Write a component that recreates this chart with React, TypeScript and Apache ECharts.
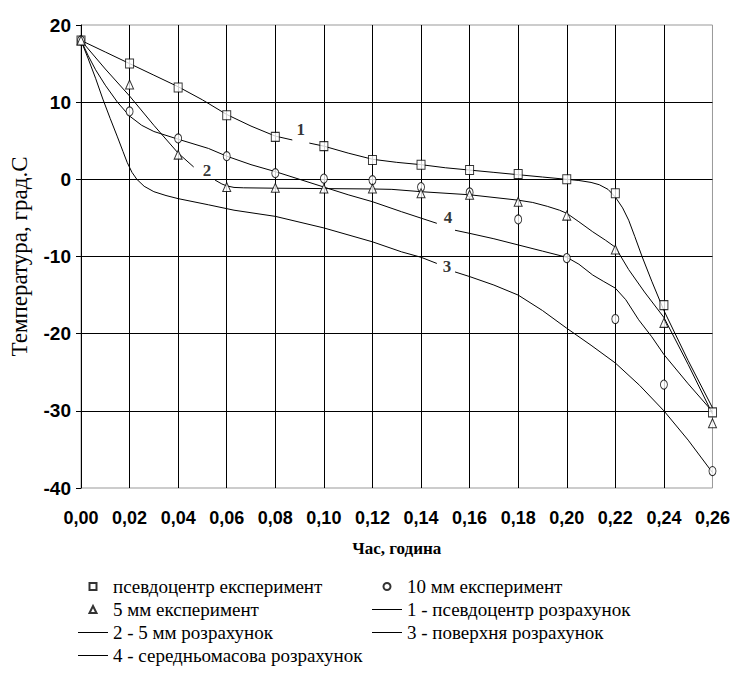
import React, { useEffect, useRef } from "react";
import * as echarts from "echarts";

// Experimental time points (h)
const timeExp = [0, 0.02, 0.04, 0.06, 0.08, 0.1, 0.12, 0.14, 0.16, 0.18, 0.2, 0.22, 0.24, 0.26];
// Experimental series (°C)
const pseudoCenterExp = [18, 15.0, 11.9, 8.3, 5.5, 4.3, 2.5, 1.9, 1.2, 0.7, 0.0, -1.8, -16.3, -30.2];
const mm10Exp = [18, 8.8, 5.3, 3.0, 0.8, 0.1, -0.1, -1.0, -1.7, -5.2, -10.2, -18.1, -26.6, -37.8];
const mm5Exp = [18, 12.3, 3.2, -1.0, -1.1, -1.2, -1.2, -1.8, -2.0, -2.9, -4.7, -9.1, -18.6, -31.6];

// Calculated curves: [time, temperature]; null = gap for the curve label
const calc1: (number | null)[][] = [
  [0, 18], [0.01, 16.5], [0.02, 15.0], [0.03, 13.5], [0.04, 12.0], [0.05, 10.3], [0.06, 8.4], [0.07, 6.9],
  [0.08, 5.6], [0.087, 5.1], [0.09, null], [0.094, 4.7], [0.1, 4.3], [0.11, 3.4], [0.12, 2.6], [0.13, 2.2],
  [0.14, 1.9], [0.15, 1.5], [0.16, 1.2], [0.17, 0.9], [0.18, 0.6], [0.19, 0.3], [0.2, 0.0], [0.205, -0.15],
  [0.21, -0.4], [0.2134, -0.7], [0.217, -1.3], [0.22, -2.3], [0.223, -3.7], [0.2255, -5.3], [0.228, -7.4],
  [0.231, -10.0], [0.235, -13.2], [0.24, -17.0], [0.25, -23.5], [0.26, -29.6],
];
const calc2: (number | null)[][] = [
  [0, 18], [0.01, 14.3], [0.02, 10.8], [0.03, 7.0], [0.04, 3.4], [0.0464, 1.6], [0.05, null], [0.0552, -0.1],
  [0.058, -0.6], [0.06, -0.85], [0.063, -1.05], [0.067, -1.1], [0.08, -1.15], [0.1, -1.2], [0.12, -1.25],
  [0.128, -1.3], [0.14, -1.6], [0.16, -2.0], [0.18, -2.7], [0.186, -3.0], [0.192, -3.5], [0.197, -4.0],
  [0.2, -4.4], [0.205, -5.5], [0.2107, -6.8], [0.216, -7.9], [0.22, -8.8], [0.2255, -11.7], [0.232, -14.6],
  [0.24, -17.9], [0.25, -24.0], [0.26, -30.4],
];
const calc3: (number | null)[][] = [
  [0, 18], [0.003, 15.6], [0.006, 13.1], [0.009, 10.4], [0.012, 7.9], [0.015, 5.5], [0.0173, 3.6],
  [0.019, 2.2], [0.021, 0.9], [0.023, 0.0], [0.026, -0.9], [0.03, -1.6], [0.035, -2.1], [0.04, -2.5],
  [0.0525, -3.3], [0.063, -4.0], [0.08, -4.8], [0.1, -6.3], [0.12, -8.1], [0.132, -9.4], [0.14, -10.1],
  [0.1465, -10.9], [0.15, null], [0.154, -12.0], [0.16, -12.6], [0.17, -13.7], [0.18, -15.0], [0.19, -17.0],
  [0.2, -19.3], [0.21, -21.5], [0.22, -23.8], [0.23, -26.7], [0.24, -30.0], [0.25, -33.8], [0.26, -38.0],
];
const calc4: (number | null)[][] = [
  [0, 18], [0.003, 16.0], [0.006, 14.2], [0.01, 12.2], [0.015, 10.0], [0.02, 8.2], [0.025, 7.0], [0.03, 6.2],
  [0.04, 5.2], [0.0525, 4.0], [0.06, 3.0], [0.07, 1.9], [0.08, 1.0], [0.09, 0.0], [0.1, -1.0], [0.11, -2.0],
  [0.12, -2.9], [0.132, -4.2], [0.1465, -5.7], [0.15, null], [0.154, -6.6], [0.16, -7.0], [0.17, -7.7],
  [0.18, -8.5], [0.19, -9.3], [0.2, -10.1], [0.205, -11.0], [0.2107, -12.4], [0.215, -13.2], [0.22, -14.1],
  [0.2243, -15.6], [0.2296, -18.2], [0.235, -20.4], [0.24, -22.7], [0.25, -26.5], [0.26, -30.1],
];

// Curve number labels: [time, temperature, text]
const curveLabels: (number | string)[][] = [
  [0.0905, 6.4, "1"],
  [0.0519, 1.2, "2"],
  [0.1507, -11.3, "3"],
  [0.1511, -5.0, "4"],
];

const names = {
  sq: "псевдоцентр експеримент",
  c10: "10 мм експеримент",
  t5: "5 мм експеримент",
  l1: "1 - псевдоцентр розрахунок",
  l2: "2 - 5 мм розрахунок",
  l3: "3 - поверхня розрахунок",
  l4: "4 - середньомасова розрахунок",
};

const tickFont = "Liberation Sans";
const serif = "Liberation Serif";

const ICON_SQUARE = "path://M0,0h10v10h-10z";
const ICON_TRIANGLE = "path://M5,0L10,10L0,10Z";
const ICON_CIRCLE = "path://M0,5a5,5 0 1,0 10,0a5,5 0 1,0 -10,0z";
const ICON_LINE = "path://M0,0h30v1h-30z";

export default function App() {
  const ref = useRef<HTMLDivElement>(null);
  useEffect(() => {
    if (!ref.current) return;
    const chart = echarts.init(ref.current, undefined, { renderer: "svg" });
    const expPts = (vals: number[]) => timeExp.map((t, i) => [t, vals[i]]);
    const scatterStyle = {
      color: "#fff",
      borderColor: "#000",
      borderWidth: 1,
    };
    const lineSeries = (name: string, data: (number | null)[][]) => ({
      name,
      type: "line",
      data: data.map((p) => [p[0], p[1] === null ? "-" : p[1]]),
      symbol: "none",
      smooth: false,
      connectNulls: false,
      lineStyle: { color: "#000", width: 1 },
      itemStyle: { color: "#000", borderWidth: 0 },
      z: 3,
    });
    const legendCommon = {
      orient: "vertical",
      top: 577,
      padding: 0,
      itemGap: 4,
      itemWidth: 30,
      itemHeight: 7,
      selectedMode: false,
      textStyle: { fontFamily: serif, fontSize: 19, color: "#000" },
    };
    chart.setOption({
      animation: false,
      backgroundColor: "#fff",
      textStyle: { fontFamily: serif, color: "#000" },
      grid: {
        left: 74,
        right: 19,
        top: 25,
        bottom: 185,
        show: true,
        borderColor: "#999",
        borderWidth: 1,
      },
      legend: [
        {
          ...legendCommon,
          left: 78,
          data: [
            { name: names.sq, icon: ICON_SQUARE },
            { name: names.t5, icon: ICON_TRIANGLE },
            { name: names.l2, icon: ICON_LINE },
            { name: names.l4, icon: ICON_LINE },
          ],
        },
        {
          ...legendCommon,
          left: 372,
          data: [
            { name: names.c10, icon: ICON_CIRCLE },
            { name: names.l1, icon: ICON_LINE },
            { name: names.l3, icon: ICON_LINE },
          ],
        },
      ],
      xAxis: {
        type: "value",
        min: 0,
        max: 0.26,
        interval: 0.02,
        name: "Час, година",
        nameLocation: "middle",
        nameGap: 52,
        nameTextStyle: { fontFamily: serif, fontWeight: "bold", fontSize: 17, color: "#000" },
        axisLine: { show: false, onZero: false },
        axisTick: { show: false },
        axisLabel: {
          margin: 21,
          fontFamily: tickFont,
          fontWeight: "bold",
          fontSize: 18,
          color: "#000",
          formatter: (v: number) => v.toFixed(2).replace(".", ","),
        },
        splitLine: { show: true, showMinLine: false, showMaxLine: false, lineStyle: { color: "#000", width: 1 } },
      },
      yAxis: {
        type: "value",
        min: -40,
        max: 20,
        interval: 10,
        name: "Температура, град.С",
        nameLocation: "middle",
        nameGap: 50,
        nameTextStyle: { fontFamily: serif, fontSize: 23, color: "#000" },
        axisLine: { show: true, onZero: false, lineStyle: { color: "#000", width: 1 } },
        axisTick: { show: true, length: 5, lineStyle: { color: "#000" } },
        axisLabel: {
          margin: 10,
          fontFamily: tickFont,
          fontWeight: "bold",
          fontSize: 19,
          color: "#000",
        },
        splitLine: { show: true, showMinLine: false, showMaxLine: false, lineStyle: { color: "#000", width: 1 } },
      },
      series: [
        lineSeries(names.l1, calc1),
        lineSeries(names.l2, calc2),
        lineSeries(names.l3, calc3),
        lineSeries(names.l4, calc4),
        {
          name: names.sq,
          type: "scatter",
          symbol: "rect",
          symbolSize: [8, 9],
          data: expPts(pseudoCenterExp),
          itemStyle: scatterStyle,
          z: 5,
        },
        {
          name: names.c10,
          type: "scatter",
          symbol: "circle",
          symbolSize: [7, 9],
          data: expPts(mm10Exp),
          itemStyle: scatterStyle,
          z: 5,
        },
        {
          name: names.t5,
          type: "scatter",
          symbol: "triangle",
          symbolSize: [8, 9],
          data: expPts(mm5Exp),
          itemStyle: scatterStyle,
          z: 5,
        },
        {
          name: "labels",
          type: "scatter",
          symbolSize: 0,
          data: curveLabels,
          silent: true,
          itemStyle: { color: "transparent" },
          label: {
            show: true,
            position: "inside",
            formatter: (p: any) => p.value[2],
            fontFamily: serif,
            fontWeight: "bold",
            fontSize: 17,
            color: "#000",
          },
          z: 6,
        },
      ],
    });
    return () => chart.dispose();
  }, []);
  return (
    <div
      ref={ref}
      style={{ position: "fixed", left: 0, top: 0, width: 733, height: 673, background: "#fff" }}
    />
  );
}
